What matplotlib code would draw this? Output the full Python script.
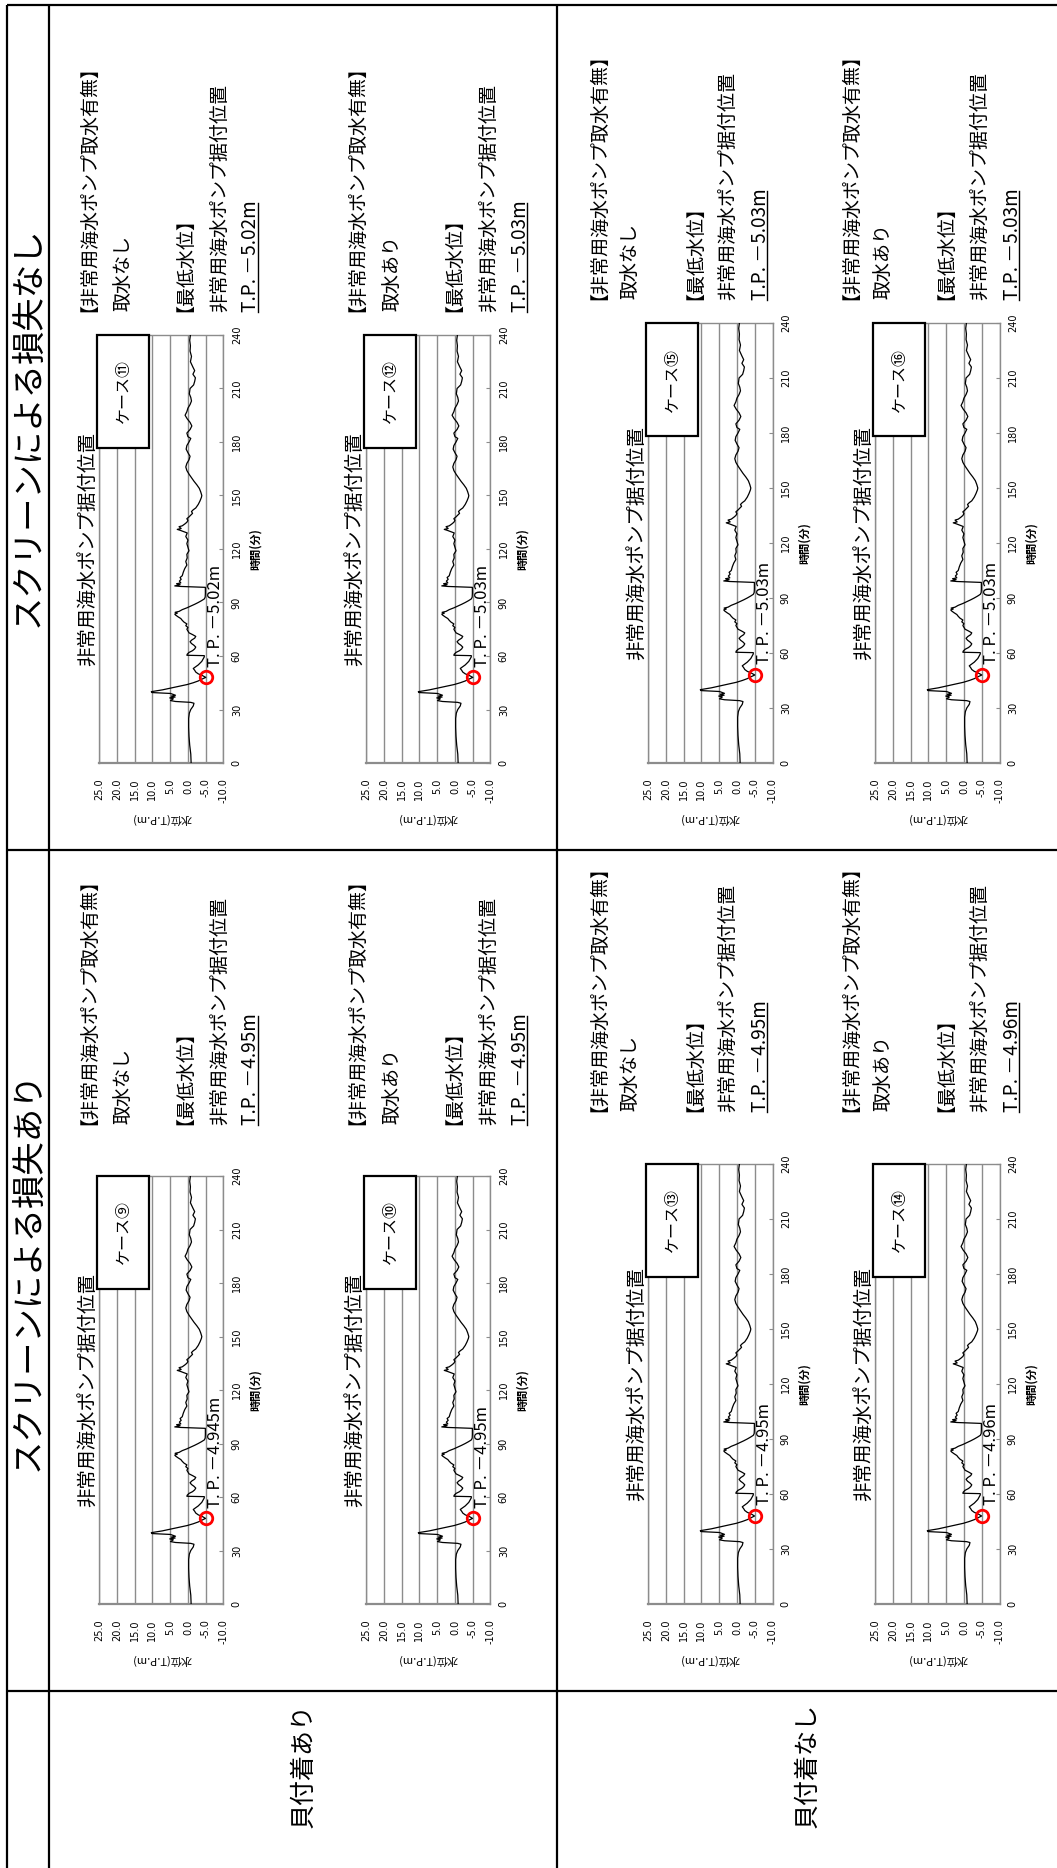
import numpy as np
import matplotlib
matplotlib.use('Agg')
import matplotlib.pyplot as plt
from matplotlib.lines import Line2D
from matplotlib.patches import Rectangle

plt.rcParams['font.family'] = ['Noto Sans CJK JP', 'DejaVu Sans']

W, H = 1057, 1868

# ---------------- data ----------------
time_min = [0, 5, 10, 15, 20, 25, 28, 30, 32, 33.5, 34, 34.5, 35, 36, 36.5, 37, 37.5, 38, 39,
            39.5, 40, 41, 42, 43, 44, 45, 46, 47, 48, 49, 50, 51, 52, 53, 54, 55, 56, 57,
            59.5, 60.2, 60.4, 61, 62, 63, 64, 65, 66, 67, 68, 69, 70, 71, 72, 73, 74, 75, 76,
            77, 78, 79, 80, 81, 82, 83, 83.5, 84, 84.5, 85, 86, 87, 88, 89, 90, 91, 92, 93,
            95, 97, 98.5, 99, 99.3, 100, 100.5, 101, 102, 103, 104, 105, 107, 109, 111, 113,
            115, 117, 119, 121, 123, 125, 127, 129, 130.5, 131, 131.5, 132.5, 133, 134, 135,
            136, 137, 138, 139, 140, 141, 142, 143, 145, 147, 149, 150, 152, 154, 156, 158,
            160, 162, 164, 166, 168, 170, 172, 174, 176, 178, 180, 182, 183, 185, 187, 189,
            191, 193, 195, 197, 199, 201, 203, 205, 207, 210, 212, 214, 216, 218, 220, 222,
            225, 228, 231, 234, 237, 240]
level_base = [-0.9, -0.8, -0.5, -0.3, -0.2, -0.2, -0.4, -0.8, -1.5, -1.7, -0.8, 3.5, 4.9, 4.1,
              5.1, 3.6, 4.7, 3.5, 4.9, 10.1, 10.3, 7.2, 4.9, 2.5, 0.2, -1.5, -2.9, -3.9, -5.0,
              -4.1, -2.9, -2.2, -1.9, -1.5, -2.2, -2.9, -3.4, -3.9, -4.6, -4.6, 0.3, 0.2, -0.3,
              -1.3, -1.9, -2.2, -1.7, -1.0, -0.6, -1.1, -1.9, -2.2, -1.3, -0.3, 0.0, 0.3, 0.0,
              0.6, 0.3, 1.1, 1.6, 2.0, 2.8, 3.5, 3.7, 3.0, 3.6, 2.5, 1.6, 0.3, -0.8, -1.9, -2.9,
              -3.8, -4.6, -4.85, -4.9, -4.9, -4.9, 2.0, 3.7, 2.2, 3.2, 2.0, 2.4, 1.9, 2.2, 1.6,
              1.3, 0.9, 0.3, 0.6, 0.2, 0.3, -0.3, 0.0, 0.3, 0.0, 0.6, 0.2, 2.2, 3.0, 1.9, 2.5,
              1.6, 0.9, 0.3, 0.0, 0.3, -0.3, -0.8, -1.3, -1.0, -1.5, -2.2, -2.9, -3.4, -3.8,
              -3.9, -3.6, -3.2, -2.5, -1.7, -1.0, -0.3, 0.3, 0.6, 0.3, -0.3, -0.6, 0.0, 0.5,
              0.3, -0.3, -0.8, 0.0, 0.3, -0.6, -1.1, -0.6, 0.2, 0.8, 0.3, 0.0, -0.6, -1.0, -0.8,
              -0.4, -0.6, -1.6, -1.9, -2.1, -1.4, -1.9, -1.4, -0.7, -1.0, -0.6, -0.7, -0.5, -0.7]
min_time = 48

case_labels = ['ケース⑨', 'ケース⑩', 'ケース⑪', 'ケース⑫',
               'ケース⑬', 'ケース⑭', 'ケース⑮', 'ケース⑯']
case_min_level = [-4.945, -4.95, -5.02, -5.03, -4.95, -4.96, -5.03, -5.03]
case_chart_text = ['4.945', '4.95', '5.02', '5.03', '4.95', '4.96', '5.03', '5.03']
case_block_text = ['4.95', '4.95', '5.02', '5.03', '4.95', '4.96', '5.03', '5.03']
case_intake = ['取水なし', '取水あり', '取水なし', '取水あり',
               '取水なし', '取水あり', '取水なし', '取水あり']

screen_headers = ['スクリーンによる損失なし', 'スクリーンによる損失あり']
shell_labels = ['貝付着あり', '貝付着なし']
level_ticks = [25, 20, 15, 10, 5, 0, -5, -10]
time_ticks = [0, 30, 60, 90, 120, 150, 180, 210, 240]

# ---------------- layout (pixels, y from top) ----------------
SEC2 = 841
layout = [
    (99, 335 + SEC2, 763 + SEC2, [89, 121, 185, 218, 249], 1125),           # 9
    (366, 335 + SEC2, 763 + SEC2, [357, 390, 454, 487, 518], 1125),         # 10
    (99, 335, 763, [89, 121, 185, 218, 249], 312),                          # 11
    (366, 335, 763, [357, 390, 454, 487, 518], 312),                        # 12
    (648, 323 + SEC2, 763 + SEC2, [599, 628, 695, 726, 758], 1112),         # 13
    (875, 323 + SEC2, 763 + SEC2, [851, 881, 946, 978, 1010], 1112),        # 14
    (648, 323, 763, [599, 628, 695, 726, 758], 300),                        # 15
    (875, 323, 763, [851, 881, 946, 978, 1010], 300),                       # 16
]
AX_W = 124.5
BLOCK_FS = 13.7

fig = plt.figure(figsize=(W / 100, H / 100), dpi=100)


def fx(x):
    return x / W


def fy(y):
    return 1 - y / H


def fig_text(x, y, s, **kw):
    return fig.text(fx(x), fy(y), s, **kw)


def fig_line(x0, y0, x1, y1, **kw):
    fig.add_artist(Line2D([fx(x0), fx(x1)], [fy(y0), fy(y1)],
                          transform=fig.transFigure, **kw))


_ink_cache = {}


def ink_box(s, fs):
    """Ink extents of a 90-degree rotated string, relative to its centre anchor (px)."""
    key = (s, fs)
    if key not in _ink_cache:
        f2 = plt.figure(figsize=(1.0, 6.0), dpi=100)
        f2.text(0.5, 0.5, s, rotation=90, ha='center', va='center', fontsize=fs)
        f2.canvas.draw()
        buf = np.asarray(f2.canvas.buffer_rgba())[..., 0]
        plt.close(f2)
        dark = buf < 160
        cols = np.where(dark.any(axis=0))[0]
        rows = np.where(dark.any(axis=1))[0]
        _ink_cache[key] = ((cols.min() + cols.max() + 1) / 2 - 50,
                           cols.max() + 1 - 50,
                           rows.min() - 300, rows.max() + 1 - 300)
    return _ink_cache[key]


def block_text(xc, ys, s, fs):
    """Place rotated text so its ink is centred on xc and its ink starts at ys."""
    cx, right, top, bottom = ink_box(s, fs)
    ax_, ay_ = xc - cx, ys - bottom
    fig_text(ax_, ay_, s, rotation=90, ha='center', va='center', fontsize=fs)
    return ax_ + right, ay_ + top, ys


# table lines
tl = dict(color='black', lw=1.6, solid_capstyle='butt')
fig_line(7, 5, W, 5, **tl)
fig_line(7, 5, 7, H, **tl)
fig_line(49, 5, 49, H, **tl)
fig_line(557, 5, 557, H, **tl)
fig_line(7, 850, W, 850, **tl)
fig_line(7, 1691, W, 1691, **tl)

fig_text(28, 427, screen_headers[0], rotation=90, ha='center', va='center', fontsize=24)
fig_text(28, 1271, screen_headers[1], rotation=90, ha='center', va='center', fontsize=24)
fig_text(303, 1766, shell_labels[0], rotation=90, ha='center', va='center', fontsize=18)
fig_text(807, 1766, shell_labels[1], rotation=90, ha='center', va='center', fontsize=18)

grey = '#8c8c8c'
min_idx = time_min.index(min_time)

for i, (x0, yt, yb, txs, ys) in enumerate(layout):
    ax = fig.add_axes([fx(x0), fy(yb), AX_W / W, (yb - yt) / H])
    lv = list(level_base)
    lv[min_idx] = case_min_level[i]
    ax.plot(lv, time_min, color='black', lw=0.9, zorder=3)
    ax.plot([case_min_level[i]], [min_time], 'o', ms=9, mfc='none', mec='red', mew=2, zorder=5)
    ax.set_xlim(25, -10)
    ax.set_ylim(0, 240)
    ax.set_xticks(level_ticks)
    ax.set_xticklabels([f'{v:.1f}' for v in level_ticks], rotation=90,
                       fontsize=7, family='DejaVu Sans')
    ax.tick_params(axis='x', length=0, pad=11)
    ax.yaxis.tick_right()
    ax.set_yticks(time_ticks)
    ax.set_yticklabels([str(v) for v in time_ticks], fontsize=7, family='DejaVu Sans')
    ax.tick_params(axis='y', direction='in', length=3, pad=6, color=grey)
    for lab in ax.get_yticklabels():
        lab.set_rotation(90)
        lab.set_va('center')
        lab.set_ha('left')
    ax.grid(axis='x', color=grey, lw=1.0)
    ax.set_axisbelow(True)
    for sp in ax.spines.values():
        sp.set_color(grey)
        sp.set_linewidth(1.0)
    ax.spines['bottom'].set_linewidth(1.6)

    h = yb - yt
    ax.text(-10.5 / AX_W, 0.5, '非常用海水ポンプ据付位置', transform=ax.transAxes,
            rotation=90, ha='center', va='center', fontsize=14)
    ax.add_patch(Rectangle((-0.016, 1 - 113 / h), 0.42, 113 / h, transform=ax.transAxes,
                           fc='white', ec='black', lw=1.6, clip_on=False, zorder=6))
    ax.text(0.196, 1 - 56.5 / h, case_labels[i], transform=ax.transAxes, rotation=90,
            ha='center', va='center', fontsize=11.5, zorder=7)
    ax.text(-7.7, 54, f'T. P. －{case_chart_text[i]}m', rotation=90, ha='center',
            va='bottom', fontsize=12, zorder=4)
    ax.text(1 + 32 / AX_W, 0.5, '時間(分)', transform=ax.transAxes, rotation=90,
            ha='center', va='center', fontsize=8, fontweight='bold')
    ax.text(0.5, -56 / h, '水位(T.P.m)', transform=ax.transAxes, rotation=180,
            ha='center', va='center', fontsize=8)

    lines = ['【非常用海水ポンプ取水有無】', case_intake[i], '【最低水位】',
             '非常用海水ポンプ据付位置', f'T.P. －{case_block_text[i]}m']
    for j, s in enumerate(lines):
        xr, ytop, ybot = block_text(txs[j], ys, s, BLOCK_FS)
        if j == 4:
            fig_line(xr + 2, ytop, xr + 2, ybot, color='black', lw=1.0)

fig.savefig('out.png', dpi=100)
